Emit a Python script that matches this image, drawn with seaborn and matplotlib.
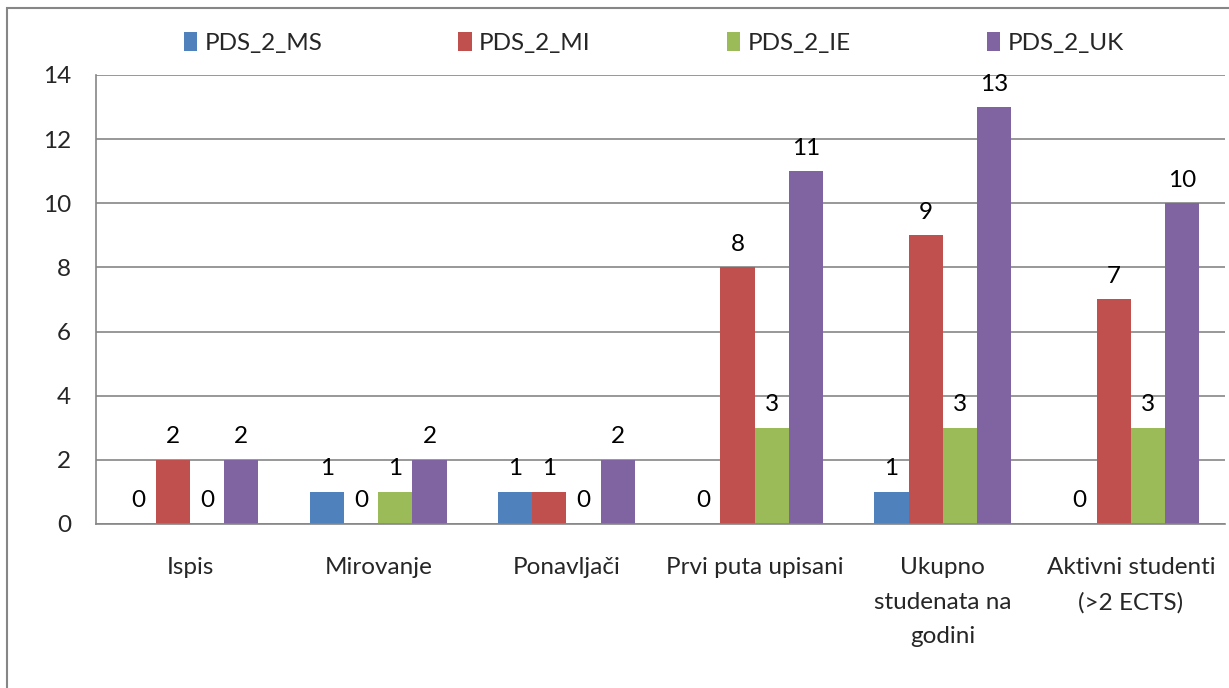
import matplotlib.pyplot as plt
import matplotlib.patches as mpatches
import seaborn as sns
import pandas as pd

# podaci s grafa
kategorije = ['Ispis', 'Mirovanje', 'Ponavljači', 'Prvi puta upisani',
              'Ukupno\nstudenata na\ngodini', 'Aktivni studenti\n(>2 ECTS)']
serije = ['PDS_2_MS', 'PDS_2_MI', 'PDS_2_IE', 'PDS_2_UK']
pds_ms = [0, 1, 1, 0, 1, 0]
pds_mi = [2, 0, 1, 8, 9, 7]
pds_ie = [0, 1, 0, 3, 3, 3]
pds_uk = [2, 2, 2, 11, 13, 10]

boje = ['#4F81BD', '#C0504D', '#9BBB59', '#8064A2']

redovi = []
for s, vals in zip(serije, [pds_ms, pds_mi, pds_ie, pds_uk]):
    for k, v in zip(kategorije, vals):
        redovi.append({'Kategorija': k, 'Serija': s, 'Broj': v})
df = pd.DataFrame(redovi)

sns.set_style('white')
plt.rcParams['font.family'] = ['Lato', 'DejaVu Sans']
fs = 17.5

fig = plt.figure(figsize=(12.29, 6.88), dpi=100)
ax = fig.add_axes([0.0781, 0.2384, 0.9186, 0.6526])

sns.barplot(data=df, x='Kategorija', y='Broj', hue='Serija', order=kategorije,
            hue_order=serije, palette=boje, width=0.727, saturation=1,
            edgecolor='none', ax=ax)

for c in ax.containers:
    ax.bar_label(c, padding=9, fontsize=fs, color='black')

ax.set_ylim(0, 14)
ax.set_yticks(range(0, 15, 2))
ax.set_xlim(-0.5, len(kategorije) - 0.5)
ax.grid(axis='y', color='#868686', linewidth=1.2)
ax.set_axisbelow(True)
ax.set_xlabel('')
ax.set_ylabel('')

for side in ['top', 'right']:
    ax.spines[side].set_visible(False)
for side in ['left', 'bottom']:
    ax.spines[side].set_color('#868686')
    ax.spines[side].set_linewidth(1.2)

# kvačice izmedju kategorija
ax.set_xticks([i + 0.5 for i in range(-1, len(kategorije))], minor=True)
ax.tick_params(axis='x', which='minor', length=8, width=1.2, color='#868686', direction='out')
ax.tick_params(axis='x', which='major', length=0, pad=24, labelsize=fs)
ax.tick_params(axis='y', length=8, width=1.2, color='#868686', direction='out', labelsize=fs, pad=10)
for t in ax.get_xticklabels():
    t.set_linespacing(1.78)
    t.set_verticalalignment('top')

h, l = ax.get_legend_handles_labels()
ax.legend(h, l, loc='lower center', bbox_to_anchor=(0.494, 0.998), ncol=4, frameon=False,
          fontsize=fs, handlelength=0.55, handleheight=0.8, handletextpad=0.3,
          columnspacing=5.6)

# okvir oko grafa
okvir = mpatches.Rectangle((7 / 1229, -0.1), 1.1, 1.1 - 8 / 688, transform=fig.transFigure,
                           fill=False, edgecolor='#868686', linewidth=1.5)
fig.patches.append(okvir)

plt.savefig('out.png', dpi=100)
